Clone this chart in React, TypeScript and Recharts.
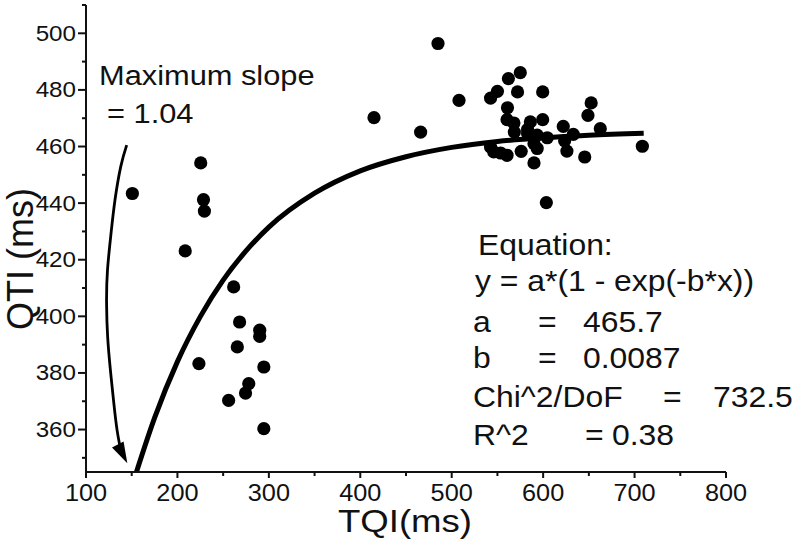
import React from 'react';
import { ComposedChart, XAxis, YAxis, Scatter, Line } from 'recharts';

// ---- data ----
const xTicks = [100, 150, 200, 250, 300, 350, 400, 450, 500, 550, 600, 650, 700, 750, 800];
const yTicks = [350, 360, 370, 380, 390, 400, 410, 420, 430, 440, 450, 460, 470, 480, 490, 500, 510];
const xLabelStep = 100;
const yLabelValues = [360, 380, 400, 420, 440, 460, 480, 500];

const tqi = [
  150.7, 208.5, 225.5, 228.5, 229.5, 223.5, 261.5, 268, 290, 290, 265.5, 294.5, 278, 274.5, 256, 294.5,
  415, 466, 485, 508,
  575, 562, 550, 542.5, 572, 599.5, 561, 560.5, 568, 568.5, 586, 599.5, 622, 652.5, 649, 662.5,
  583, 604.5, 633, 542.5, 546, 560.5, 576, 590, 593.5, 623.5, 626, 645.5, 590, 603.5, 708.5, 553.5, 593.5, 583,
];
const qti = [
  443.4, 423.1, 454.2, 441.2, 437.2, 383.3, 410.4, 398, 395.1, 392.9, 389.2, 382.1, 376.2, 372.9, 370.3, 360.3,
  470.2, 465.1, 496.4, 476.3,
  486.1, 484, 479.5, 477.1, 479.3, 479.3, 473.7, 469.5, 468.3, 465.1, 468.7, 469.5, 467.1, 475.4, 471, 466.3,
  464.6, 463.1, 464.3, 459.8, 458.1, 456.9, 458.3, 461, 459.3, 462, 458.4, 456.3, 454.2, 440.2, 460.1, 457.7, 464, 466,
];

const fitX = [155, 175, 200, 225, 250, 275, 300, 350, 400, 450, 500, 550, 600, 650, 710];
const fitY = [344.8, 364.1, 384.0, 399.9, 412.8, 423.1, 431.5, 443.5, 451.4, 456.4, 459.7, 461.8, 463.1, 464.0, 464.7];

const arrowX = [144.5, 138, 131.7, 127.4, 123.5, 122.5, 123.7, 126.7, 130.4, 134, 138.4, 142];
const arrowY = [460.5, 452.9, 441.1, 429.4, 416.3, 404.6, 392.6, 381, 369.4, 359.8, 352.7, 350.5];
const arrowTip = [{ x: 145.2, y: 348.1 }];

const slopeLines = ['Maximum slope', '= 1.04'];
const eqTitle = 'Equation:';
const eqFormula = 'y = a*(1 - exp(-b*x))';
const paramNames = ['a', 'b', 'Chi^2/DoF', 'R^2'];
const paramValues = ['465.7', '0.0087', '732.5', '0.38'];
const xTitle = 'TQI(ms)';
const yTitle = 'QTI (ms)';

const scatterData = tqi.map((x, i) => ({ x, y: qti[i] }));
const fitData = fitX.map((x, i) => ({ x, y: fitY[i] }));
const arrowData = arrowX.map((x, i) => ({ x, y: arrowY[i] }));

// ---- styles ----
const FONT = '"Liberation Sans", Arial, Helvetica, sans-serif';
const INK = '#111';
const SX = 1.1;

const STxt = ({ x, y, size, anchor = 'start', children }: any) => (
  <text
    transform={`translate(${x},${y}) scale(${SX},1)`}
    textAnchor={anchor}
    fontSize={size}
    fontFamily={FONT}
    fill={INK}
  >
    {children}
  </text>
);

const XTick = (props: any) => {
  const { x, y, payload } = props;
  const v = payload.value;
  const major = v % xLabelStep === 0;
  return (
    <g>
      <line x1={x} x2={x} y1={y} y2={y + (major ? 6 : 4)} stroke={INK} strokeWidth={2} />
      {major && (
        <STxt x={x} y={y + 29} size={23} anchor="middle">
          {v}
        </STxt>
      )}
    </g>
  );
};

const YTick = (props: any) => {
  const { x, y, payload } = props;
  const v = payload.value;
  const major = yLabelValues.includes(v);
  return (
    <g>
      <line x1={x} x2={x - (major ? 8 : 4)} y1={y} y2={y} stroke={INK} strokeWidth={2} />
      {major && (
        <STxt x={x - 10} y={y + 7.5} size={22} anchor="end">
          {v}
        </STxt>
      )}
    </g>
  );
};

const Dot = (p: any) => <circle cx={p.cx} cy={p.cy} r={6.6} fill="#000" />;

const ArrowHead = (p: any) => {
  const { cx, cy } = p;
  const ang = (63 * Math.PI) / 180;
  const L = 21;
  const W = 6.5;
  const bx = cx - L * Math.cos(ang);
  const by = cy - L * Math.sin(ang);
  const nx = -Math.sin(ang) * W;
  const ny = Math.cos(ang) * W;
  return <polygon points={`${cx},${cy} ${bx + nx},${by + ny} ${bx - nx},${by - ny}`} fill="#000" />;
};

export default function App() {
  const rowY = [332, 368, 406.5, 444.5];
  const eqX = [538, 538, 663, 585];
  const valX = [583, 583, 713, 612];
  return (
    <div style={{ position: 'absolute', left: 0, top: 0, width: 800, height: 542, background: '#fff' }}>
      <ComposedChart width={800} height={542} margin={{ top: 5, right: 74, left: 0, bottom: 0 }}>
        <XAxis
          type="number"
          dataKey="x"
          domain={[100, 800]}
          ticks={xTicks}
          interval={0}
          allowDataOverflow
          height={70}
          tickLine={false}
          tickSize={0}
          tickMargin={0}
          axisLine={{ stroke: INK, strokeWidth: 2 }}
          tick={<XTick />}
        />
        <YAxis
          type="number"
          dataKey="y"
          domain={[345, 510]}
          ticks={yTicks}
          interval={0}
          allowDataOverflow
          width={86}
          tickLine={false}
          tickSize={0}
          tickMargin={0}
          axisLine={{ stroke: INK, strokeWidth: 2 }}
          tick={<YTick />}
        />
        <Line
          data={fitData}
          dataKey="y"
          type="monotone"
          stroke="#000"
          strokeWidth={5}
          dot={false}
          activeDot={false}
          isAnimationActive={false}
        />
        <Line
          data={arrowData}
          dataKey="y"
          type="natural"
          stroke="#000"
          strokeWidth={2.8}
          dot={false}
          activeDot={false}
          isAnimationActive={false}
        />
        <Scatter data={arrowTip} dataKey="y" shape={<ArrowHead />} isAnimationActive={false} />
        <Scatter data={scatterData} dataKey="y" shape={<Dot />} isAnimationActive={false} />
      </ComposedChart>
      <svg
        width={800}
        height={542}
        style={{ position: 'absolute', left: 0, top: 0, pointerEvents: 'none' }}
      >
        <STxt x={99} y={85} size={28}>{slopeLines[0]}</STxt>
        <STxt x={107} y={123} size={28}>{slopeLines[1]}</STxt>
        <STxt x={478} y={255} size={29}>{eqTitle}</STxt>
        <STxt x={475} y={291} size={29}>{eqFormula}</STxt>
        {paramNames.map((n, i) => (
          <g key={n}>
            <STxt x={473} y={rowY[i]} size={29}>{n}</STxt>
            <STxt x={eqX[i]} y={rowY[i]} size={29}>=</STxt>
            <STxt x={valX[i]} y={rowY[i]} size={29}>{paramValues[i]}</STxt>
          </g>
        ))}
        <text
          transform="translate(338,532) scale(1.18,1)"
          fontSize={31}
          fontFamily={FONT}
          fill={INK}
        >
          {xTitle}
        </text>
        <text
          transform="translate(33,259) rotate(-90)"
          textAnchor="middle"
          fontSize={36}
          fontFamily={FONT}
          fill={INK}
        >
          {yTitle}
        </text>
      </svg>
    </div>
  );
}
